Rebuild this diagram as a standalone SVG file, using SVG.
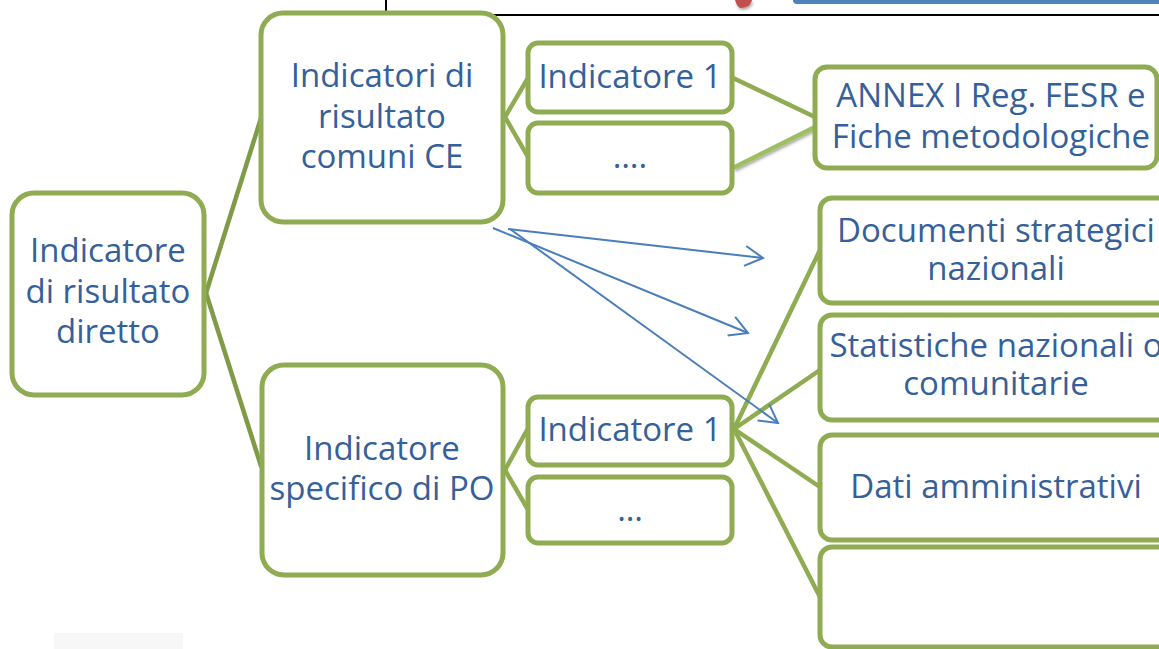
<svg xmlns="http://www.w3.org/2000/svg" width="1159" height="649" viewBox="0 0 1159 649">
  <defs>
    <style>
      .box { fill: #ffffff; stroke: #8FAC52; stroke-width: 5; }
      .lbl { font-family: "Open Sans", "Liberation Sans", sans-serif; font-size: 33px; fill: #35609A; text-anchor: middle; }
      .conn { stroke: #8FAC52; stroke-width: 4.5; fill: none; stroke-linecap: round; }
      .conn-dark { stroke: #7F9B47; stroke-width: 4.5; fill: none; stroke-linecap: round; }
      .arrow { stroke: #4A7EBB; stroke-width: 2; fill: none; marker-end: url(#openArrow); }
    </style>
    <marker id="openArrow" markerUnits="userSpaceOnUse" viewBox="0 0 22 22" markerWidth="22" markerHeight="22" refX="20" refY="11" orient="auto">
      <path d="M2,1 L20,11 L2,21" fill="none" stroke="#4A7EBB" stroke-width="2"/>
    </marker>
    <filter id="shadow" x="-20%" y="-50%" width="140%" height="200%">
      <feDropShadow dx="1" dy="2" stdDeviation="1.5" flood-color="#000" flood-opacity="0.35"/>
    </filter>
  </defs>

  <rect width="1159" height="649" fill="#ffffff"/>

  <!-- top decorations -->
  <g id="top-decor">
    <rect x="793" y="-6" width="370" height="10" rx="4" fill="#4F81BD"/>
    <path d="M735,0 L752,0 C751,5 747,8 740,8 C737,6 736,3 735,0 Z" fill="#C0504D" filter="url(#shadow)"/>
    <path d="M386,0 L386,15 L1159,15" fill="none" stroke="#000000" stroke-width="2"/>
    <rect x="54" y="633" width="129" height="16" fill="#F7F7F7"/>
  </g>

  <!-- connectors -->
  <g id="connectors">
    <line class="conn-dark" x1="206" y1="293" x2="261" y2="118"/>
    <line class="conn-dark" x1="206" y1="293" x2="261" y2="466"/>
    <line class="conn" x1="505" y1="117" x2="528" y2="78"/>
    <line class="conn" x1="505" y1="117" x2="528" y2="157"/>
    <line class="conn" x1="505" y1="470" x2="527" y2="430"/>
    <line class="conn" x1="505" y1="470" x2="527" y2="508"/>
    <line class="conn" x1="733" y1="78" x2="815" y2="117"/>
    <line x1="735" y1="167" x2="825" y2="122" stroke="#9CC05E" stroke-width="4.5" stroke-linecap="round" filter="url(#shadow)"/>
    <line class="conn" x1="734" y1="429" x2="820" y2="250"/>
    <line class="conn" x1="734" y1="429" x2="820" y2="370"/>
    <line class="conn" x1="734" y1="429" x2="820" y2="487"/>
    <line class="conn" x1="734" y1="429" x2="820" y2="597"/>
    <line class="arrow" x1="508" y1="229" x2="763" y2="258"/>
    <line class="arrow" x1="493" y1="228" x2="748" y2="333"/>
    <line class="arrow" x1="510" y1="229" x2="778" y2="423"/>
  </g>

  <g id="node-diretto">
    <rect class="box" x="12" y="193" width="192" height="202" rx="22"/>
    <text class="lbl" x="108" y="262">Indicatore</text>
    <text class="lbl" x="108" y="303">di risultato</text>
    <text class="lbl" x="108" y="343">diretto</text>
  </g>

  <g id="node-comuni">
    <rect class="box" x="261" y="13" width="242" height="209" rx="22"/>
    <text class="lbl" x="382" y="87">Indicatori di</text>
    <text class="lbl" x="382" y="128">risultato</text>
    <text class="lbl" x="382" y="168">comuni CE</text>
  </g>

  <g id="node-specifico">
    <rect class="box" x="262" y="365" width="241" height="210" rx="22"/>
    <text class="lbl" x="382" y="460">Indicatore</text>
    <text class="lbl" x="382" y="500">specifico di PO</text>
  </g>

  <g id="node-ind1-top">
    <rect class="box" x="528" y="43" width="204" height="69" rx="10"/>
    <text class="lbl" x="630" y="88">Indicatore 1</text>
  </g>

  <g id="node-dots-top">
    <rect class="box" x="528" y="123" width="204" height="70" rx="10"/>
    <text class="lbl" x="630" y="168">….</text>
  </g>

  <g id="node-ind1-bottom">
    <rect class="box" x="528" y="397" width="204" height="68" rx="10"/>
    <text class="lbl" x="630" y="441">Indicatore 1</text>
  </g>

  <g id="node-dots-bottom">
    <rect class="box" x="528" y="477" width="204" height="66" rx="10"/>
    <text class="lbl" x="630" y="521">…</text>
  </g>

  <g id="node-annex">
    <rect class="box" x="815" y="67" width="342" height="101" rx="12"/>
    <text class="lbl" x="991" y="107">ANNEX I Reg. FESR e</text>
    <text class="lbl" x="991" y="148">Fiche metodologiche</text>
  </g>

  <g id="node-documenti">
    <rect class="box" x="820" y="198" width="360" height="105" rx="12"/>
    <text class="lbl" x="996" y="242">Documenti strategici</text>
    <text class="lbl" x="996" y="280">nazionali</text>
  </g>

  <g id="node-statistiche">
    <rect class="box" x="820" y="315" width="360" height="105" rx="12"/>
    <text class="lbl" x="996" y="357">Statistiche nazionali o</text>
    <text class="lbl" x="996" y="395">comunitarie</text>
  </g>

  <g id="node-dati">
    <rect class="box" x="820" y="435" width="360" height="105" rx="12"/>
    <text class="lbl" x="996" y="498">Dati amministrativi</text>
  </g>

  <g id="node-empty">
    <rect class="box" x="820" y="547" width="360" height="100" rx="12"/>
  </g>
</svg>
